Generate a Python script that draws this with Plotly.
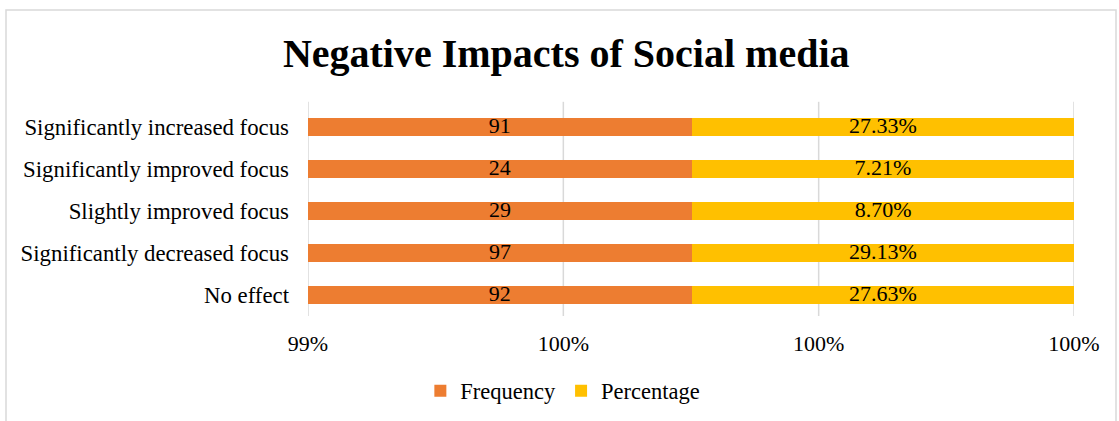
import numpy as np
import plotly.graph_objects as go

# Survey responses
categories = [
    "Significantly increased focus",
    "Significantly improved focus",
    "Slightly improved focus",
    "Significantly decreased focus",
    "No effect",
]
frequency = [91, 24, 29, 97, 92]
percentage = [27.33, 7.21, 8.70, 29.13, 27.63]

# Value-axis settings (100% stacked, zoomed in on the top of the scale)
axis_min, axis_max = 99.4, 100.0
tick_values = [99.4, 99.6, 99.8, 100.0]

ORANGE = "#ED7D31"
YELLOW = "#FFC000"
FONT = "Liberation Serif"

freq = np.array(frequency, dtype=float)
pct_frac = np.array(percentage, dtype=float) / 100.0
total = freq + pct_frac
freq_share = freq / total * 100.0
pct_share = pct_frac / total * 100.0

fig = go.Figure()
fig.add_trace(go.Bar(
    y=categories, x=freq_share, orientation="h", name="Frequency",
    marker=dict(color=ORANGE, line=dict(width=0)),
    hovertext=[str(v) for v in frequency], hoverinfo="y+text",
))
fig.add_trace(go.Bar(
    y=categories, x=pct_share, orientation="h", name="Percentage",
    marker=dict(color=YELLOW, line=dict(width=0)),
    hovertext=[f"{v:.2f}%" for v in percentage], hoverinfo="y+text",
))

# Data labels centred on the visible part of each segment
freq_mid = (axis_min + freq_share) / 2.0
pct_mid = (freq_share + freq_share + pct_share) / 2.0
fig.add_trace(go.Scatter(
    y=categories, x=freq_mid, mode="text",
    text=[str(v) for v in frequency],
    textfont=dict(family=FONT, size=22, color="#000000"),
    showlegend=False, hoverinfo="skip",
))
fig.add_trace(go.Scatter(
    y=categories, x=pct_mid, mode="text",
    text=[f"{v:.2f}%" for v in percentage],
    textfont=dict(family=FONT, size=22, color="#000000"),
    showlegend=False, hoverinfo="skip",
))

# Vertical gridlines, including the two at the ends of the scale
for tv in tick_values:
    fig.add_shape(
        type="line", xref="x", yref="paper", x0=tv, x1=tv, y0=0, y1=1.02,
        line=dict(color="#D9D9D9", width=1.5), layer="below",
    )

fig.update_layout(
    width=1119, height=421,
    barmode="stack",
    bargap=0.57,
    paper_bgcolor="white", plot_bgcolor="white",
    margin=dict(l=308, r=45, t=106, b=105),
    font=dict(family=FONT, size=22, color="#000000"),
    title=dict(
        text="<b>Negative Impacts of Social media</b>",
        font=dict(family=FONT, size=40, color="#000000"),
        x=0.506, xanchor="center", xref="container",
        y=1 - 53 / 421, yanchor="middle", yref="container",
    ),
    legend=dict(
        orientation="h", x=0.503, xanchor="center", xref="container",
        y=1 - 391 / 421, yanchor="middle", yref="container",
        font=dict(family=FONT, size=22.5, color="#000000"),
        traceorder="normal", itemwidth=30,
    ),
    showlegend=True,
)
fig.update_xaxes(
    range=[axis_min, axis_max], tickvals=tick_values,
    ticktext=[f"{v:.0f}%" for v in tick_values],
    showgrid=False, zeroline=False, showline=False, ticks="",
    ticklabelstandoff=12,
    tickfont=dict(family=FONT, size=22, color="#000000"),
)
fig.update_yaxes(
    categoryorder="array", categoryarray=categories, autorange="reversed",
    showgrid=False, zeroline=False, showline=False, ticks="",
    ticklabelstandoff=18,
    tickfont=dict(family=FONT, size=22.8, color="#000000"),
)

# Chart frame
fig.add_shape(
    type="rect", xref="paper", yref="paper",
    x0=-302 / 766, x1=(1116 - 308) / 766,
    y0=-(421 - 316 + 20) / 210, y1=(316 - 10) / 210,
    line=dict(color="#D9D9D9", width=1.5), fillcolor="rgba(0,0,0,0)",
    layer="below",
)

fig.write_html("out.html")
